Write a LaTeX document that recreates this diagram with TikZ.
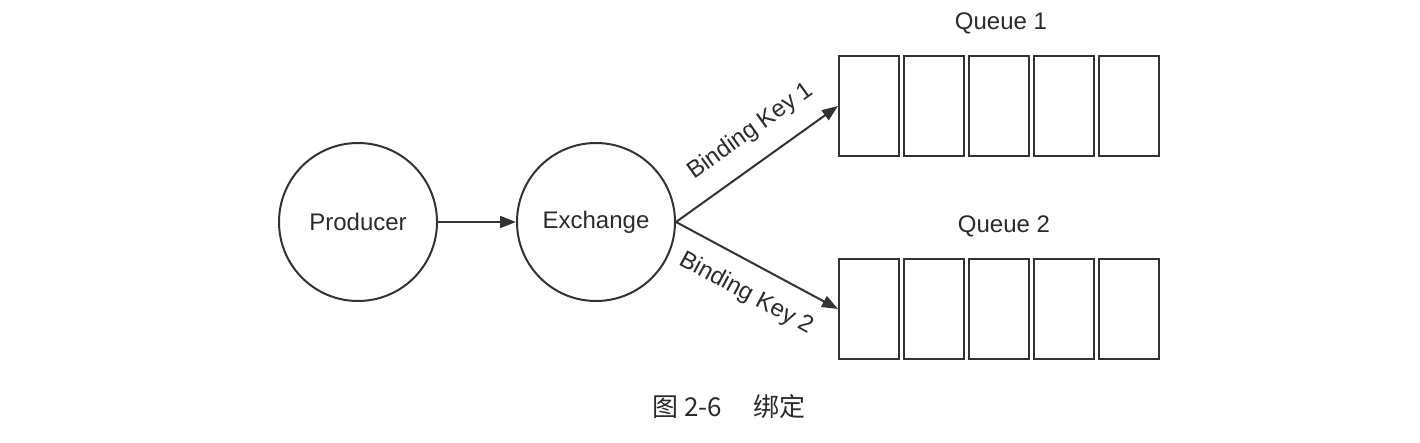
\documentclass[tikz,border=0pt]{standalone}
\usepackage{fontspec}
\setmainfont{Liberation Sans}
\newfontfamily\cjk{Noto Sans CJK SC}
\usetikzlibrary{arrows.meta}
\definecolor{ink}{HTML}{333333}
\definecolor{txt}{HTML}{2B2B2B}
\tikzset{
  circ/.style={circle, draw=ink, line width=2pt, minimum size=158pt, inner sep=0pt, text=txt, font=\fontsize{24}{28}\selectfont},
  cell/.style={rectangle, draw=ink, line width=2pt, minimum width=60pt, minimum height=100pt, inner sep=0pt},
  conn/.style={draw=ink, line width=2pt, -{Triangle[length=16pt,width=12pt]}},
  lbl/.style={text=txt, font=\fontsize{24}{28}\selectfont, inner sep=2pt},
}
\begin{document}
\begin{tikzpicture}[x=1pt,y=1pt]
\useasboundingbox (0,0) rectangle (1420,442);
\fill[white] (0,0) rectangle (1420,442);
\node[circ] (prod) at (358,220) {Producer};
\node[circ] (exch) at (596,220) {Exchange};
\foreach \i/\x in {1/869,2/934,3/999,4/1064,5/1129}{
  \node[cell] (qa\i) at (\x,336) {};
  \node[cell] (qb\i) at (\x,133) {};
}
\node[lbl] (q1) at (1001,419) {Queue 1};
\node[lbl] (q2) at (1004,216) {Queue 2};
\draw[conn] (prod.east) -- (exch.west);
\draw[conn] (exch.east) -- node[lbl, sloped, above=16pt, pos=0.57] (bk1) {Binding Key 1} (qa1.west);
\draw[conn] (exch.east) -- node[lbl, sloped, below=16pt, pos=0.52] (bk2) {Binding Key 2} (qb1.west);
\node[text=txt, font=\cjk\fontsize{26}{30}\selectfont] (cap) at (729,35) {图 2-6\hspace{1.2em}绑定};
\end{tikzpicture}
\end{document}
